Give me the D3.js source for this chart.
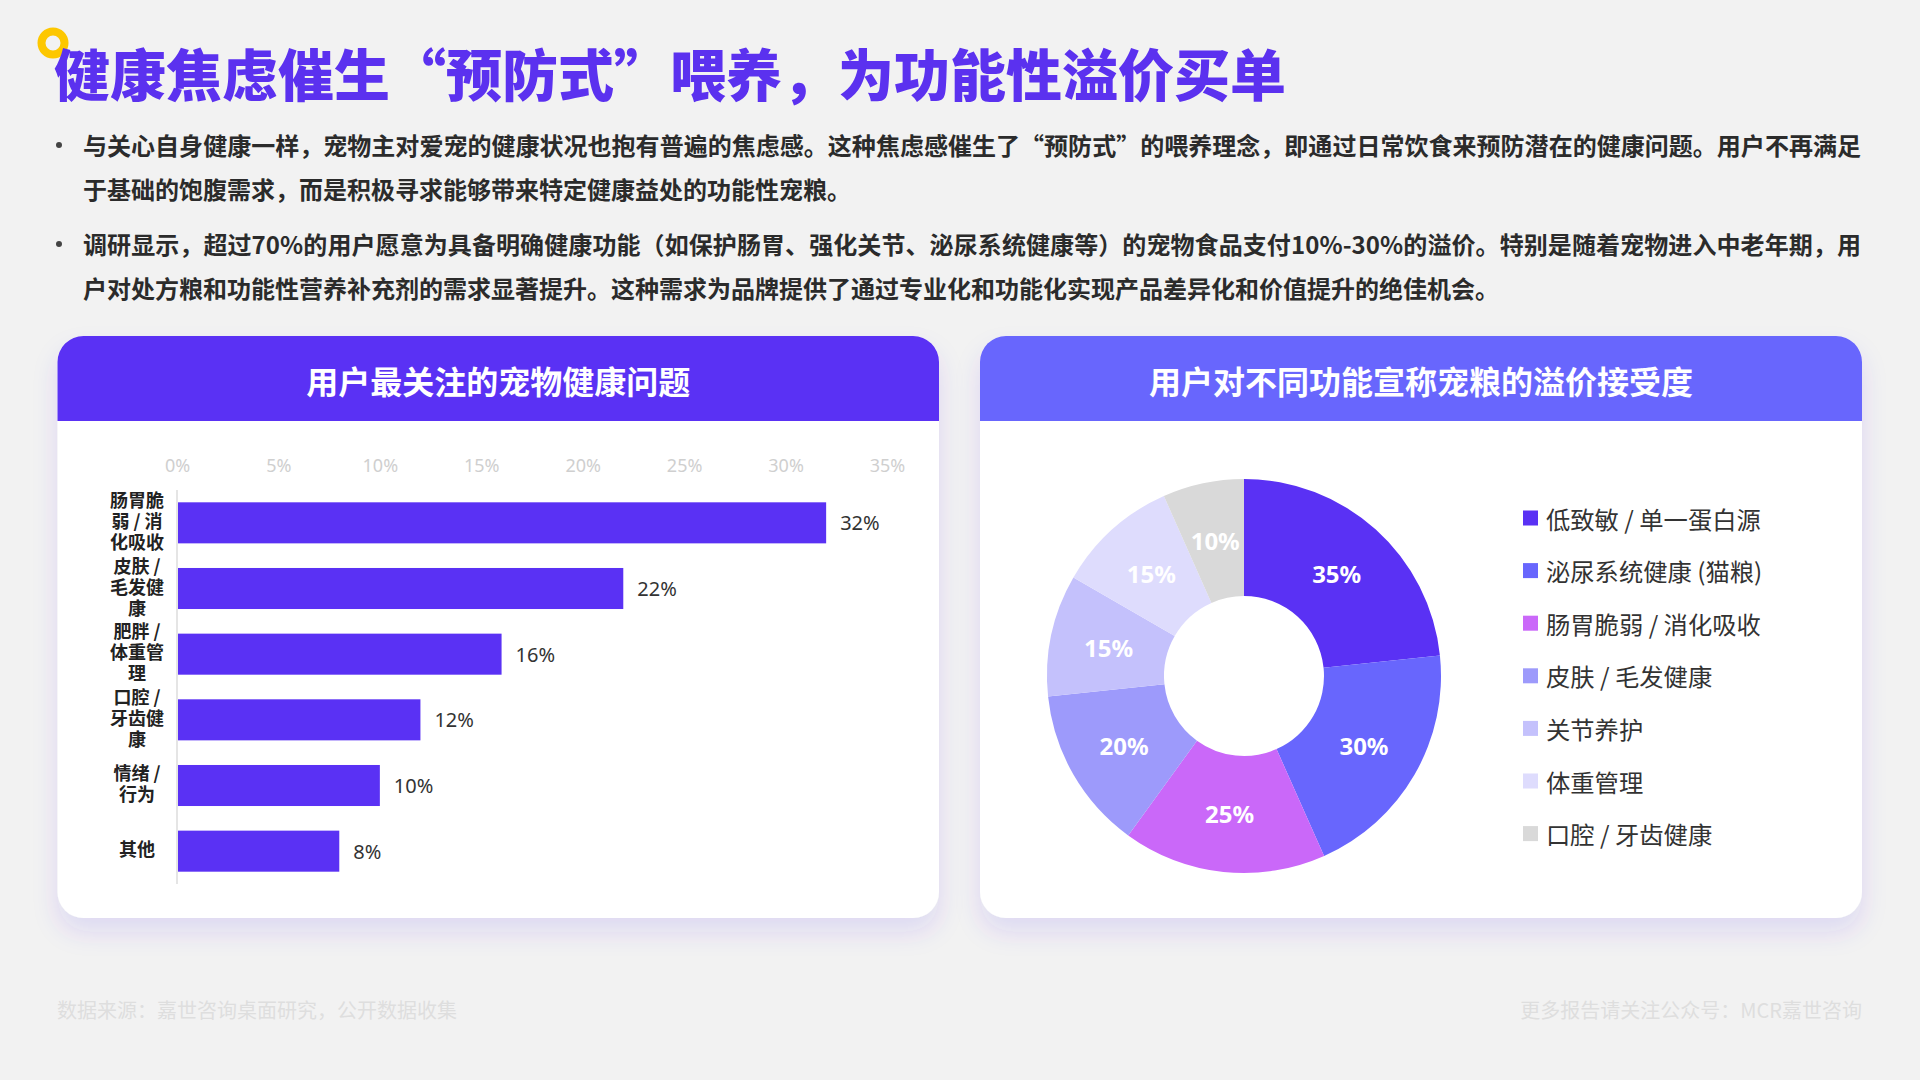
<!DOCTYPE html>
<html>
<head>
<meta charset="utf-8">
<script src="https://cdn.jsdelivr.net/npm/d3@7"></script>
<style>
  html, body { margin: 0; padding: 0; }
  body { width: 1920px; height: 1080px; background: #f2f2f2; overflow: hidden;
         font-family: "Noto Sans CJK SC", "Noto Sans", sans-serif; }
  #page { position: relative; width: 1920px; height: 1080px; }
  svg { position: absolute; left: 0; top: 0; }
  .line { position: absolute; left: 83px; font-size: 24px; font-weight: 700; color: #2b2b2b;
          white-space: nowrap; line-height: 32px; }
  .dot { position: absolute; left: 56px; width: 6px; height: 6px; border-radius: 3px; background: #444; }
</style>
</head>
<body>
<div id="page">
  <svg id="chart" width="1920" height="1080"></svg>
</div>
<script>
// ---------------- data ----------------
const titleText = "健康焦虑催生“预防式”喂养，为功能性溢价买单";
const bulletLines = [
  "与关心自身健康一样，宠物主对爱宠的健康状况也抱有普遍的焦虑感。这种焦虑感催生了“预防式”的喂养理念，即通过日常饮食来预防潜在的健康问题。用户不再满足",
  "于基础的饱腹需求，而是积极寻求能够带来特定健康益处的功能性宠粮。",
  "调研显示，超过70%的用户愿意为具备明确健康功能（如保护肠胃、强化关节、泌尿系统健康等）的宠物食品支付10%-30%的溢价。特别是随着宠物进入中老年期，用",
  "户对处方粮和功能性营养补充剂的需求显著提升。这种需求为品牌提供了通过专业化和功能化实现产品差异化和价值提升的绝佳机会。"
];
const barTitle = "用户最关注的宠物健康问题";
const barCategories = ["肠胃脆弱 / 消化吸收", "皮肤 / 毛发健康", "肥胖 / 体重管理", "口腔 / 牙齿健康", "情绪 / 行为", "其他"];
const barValues = [32, 22, 16, 12, 10, 8];
const barTicks = [0, 5, 10, 15, 20, 25, 30, 35];

const pieTitle = "用户对不同功能宣称宠粮的溢价接受度";
const pieCategories = ["低致敏 / 单一蛋白源", "泌尿系统健康 (猫粮)", "肠胃脆弱 / 消化吸收", "皮肤 / 毛发健康", "关节养护", "体重管理", "口腔 / 牙齿健康"];
const pieValues = [35, 30, 25, 20, 15, 15, 10];
const pieColors = ["#5a31f4", "#6866fd", "#ca68f9", "#9d9afb", "#c4c1fc", "#dedcfd", "#d9d9d9"];

const footLeft = "数据来源：嘉世咨询桌面研究，公开数据收集";
const footRight = "更多报告请关注公众号：MCR嘉世咨询";

// ---------------- bullets (HTML) ----------------
const page = d3.select("#page");
const lineCenters = [144.5, 188.6, 243.7, 287.8];
const justified = [true, false, true, false];
bulletLines.forEach((t, i) => {
  const el = page.append("div").attr("class", "line")
    .style("top", (lineCenters[i] - 16) + "px").text(t);
  if (justified[i]) {
    const w = el.node().getBoundingClientRect().width;
    const n = Array.from(t).length;
    el.style("letter-spacing", ((1778 - w) / n) + "px");
  }
});
[0, 2].forEach(i => page.append("div").attr("class", "dot").style("top", (lineCenters[i] - 3) + "px"));

// ---------------- svg ----------------
const svg = d3.select("#chart");
const defs = svg.append("defs");
const f = defs.append("filter").attr("id", "shadow").attr("x", "-10%").attr("y", "-10%").attr("width", "120%").attr("height", "130%");
f.append("feDropShadow").attr("dx", 0).attr("dy", 14).attr("stdDeviation", 12)
  .attr("flood-color", "#5b31f4").attr("flood-opacity", 0.13);

// title
svg.append("circle").attr("cx", 53).attr("cy", 43).attr("r", 11.5)
  .attr("fill", "none").attr("stroke", "#fdc700").attr("stroke-width", 8);
svg.append("text").attr("x", 54).attr("y", 96).attr("font-size", 56).attr("font-weight", 900)
  .attr("fill", "#5b31ef").attr("font-family", "Noto Sans CJK SC").text(titleText);

// cards
function card(x0, x1, y0, hb, y1, color, title) {
  const r = 26;
  svg.append("rect").attr("x", x0).attr("y", y0).attr("width", x1 - x0).attr("height", y1 - y0)
    .attr("rx", r).attr("fill", "#fff").attr("filter", "url(#shadow)");
  const p = d3.path();
  p.moveTo(x0, hb); p.lineTo(x0, y0 + r); p.arcTo(x0, y0, x0 + r, y0, r);
  p.lineTo(x1 - r, y0); p.arcTo(x1, y0, x1, y0 + r, r); p.lineTo(x1, hb); p.closePath();
  svg.append("path").attr("d", p.toString()).attr("fill", color);
  svg.append("text").attr("x", (x0 + x1) / 2).attr("y", (y0 + hb) / 2 + 1)
    .attr("text-anchor", "middle").attr("dominant-baseline", "central")
    .attr("font-size", 32).attr("font-weight", 700).attr("fill", "#fff")
    .attr("font-family", "Noto Sans CJK SC").text(title);
}
card(57.5, 939, 336, 421, 918, "#5a31f4", barTitle);
card(980, 1862, 336, 421, 918, "#6866fd", pieTitle);

// ---------------- bar chart ----------------
const x = d3.scaleLinear().domain([0, 35]).range([177, 887]);
const y = d3.scaleBand().domain(barCategories).range([490, 884]).paddingInner(0.375).paddingOuter(0.1875);

const gx = svg.append("g").attr("transform", "translate(0,466)")
  .call(d3.axisTop(x).tickValues(barTicks).tickFormat(d => d + "%").tickSize(0).tickPadding(0));
gx.select(".domain").remove();
gx.selectAll("text").attr("dy", "0.35em").attr("font-size", 18).attr("fill", "#cfcfcf")
  .attr("font-family", "Noto Sans, sans-serif");

svg.append("line").attr("x1", 177).attr("x2", 177).attr("y1", 490).attr("y2", 884)
  .attr("stroke", "#dcdcdc").attr("stroke-width", 1.5);

svg.append("g").selectAll("rect").data(barValues).join("rect")
  .attr("x", x(0) + 1).attr("y", (d, i) => y(barCategories[i]))
  .attr("width", d => x(d) - x(0) - 1).attr("height", y.bandwidth())
  .attr("fill", "#5a31f4");

svg.append("g").selectAll("text").data(barValues).join("text")
  .attr("x", d => x(d) + 14).attr("y", (d, i) => y(barCategories[i]) + y.bandwidth() / 2)
  .attr("dominant-baseline", "central").attr("font-size", 20).attr("fill", "#333")
  .attr("font-family", "Noto Sans, sans-serif").text(d => d + "%");

// wrapped y labels
const ctx = document.createElement("canvas").getContext("2d");
const labelFont = "700 18px 'Noto Sans CJK SC'";
function wrapChars(str, maxW) {
  ctx.font = labelFont;
  const lines = []; let cur = "";
  for (const ch of str) {
    const t = cur + ch;
    if (ctx.measureText(t.trim()).width > maxW && cur.trim() !== "") { lines.push(cur.trim()); cur = ch; }
    else cur = t;
  }
  if (cur.trim()) lines.push(cur.trim());
  return lines;
}
barCategories.forEach(c => {
  const lines = wrapChars(c, 56);
  const cy = y(c) + y.bandwidth() / 2 - 3;
  const t = svg.append("text").attr("text-anchor", "middle").attr("font-size", 18)
    .attr("font-weight", 700).attr("fill", "#222").attr("font-family", "Noto Sans CJK SC");
  lines.forEach((l, i) => {
    t.append("tspan").attr("x", 137).attr("y", cy + (i - (lines.length - 1) / 2) * 21)
      .attr("dominant-baseline", "central").text(l);
  });
});

// ---------------- donut ----------------
const cx = 1244, cyc = 676;
const pie = d3.pie().sort(null).value(d => d)(pieValues);
const arc = d3.arc().innerRadius(80).outerRadius(197);
const gp = svg.append("g").attr("transform", `translate(${cx},${cyc})`);
gp.selectAll("path").data(pie).join("path").attr("d", arc).attr("fill", (d, i) => pieColors[i]);
gp.selectAll("text").data(pie).join("text")
  .attr("transform", d => `translate(${arc.centroid(d)})`)
  .attr("text-anchor", "middle").attr("dominant-baseline", "central")
  .attr("font-size", 24).attr("font-weight", 700).attr("fill", "#fff")
  .attr("font-family", "Noto Sans, sans-serif").text(d => d.data + "%");

// legend
const lg = svg.append("g");
pieCategories.forEach((c, i) => {
  const yy = 518 + i * 52.6;
  lg.append("rect").attr("x", 1523).attr("y", yy - 7.5).attr("width", 15).attr("height", 15).attr("fill", pieColors[i]);
  lg.append("text").attr("x", 1546).attr("y", yy).attr("dominant-baseline", "central")
    .attr("font-size", 24.3).attr("fill", "#333").attr("font-family", "Noto Sans CJK SC").text(c);
});

// footer
svg.append("text").attr("x", 57).attr("y", 1009).attr("dominant-baseline", "central")
  .attr("font-size", 20).attr("fill", "#dedede").attr("font-family", "Noto Sans CJK SC").text(footLeft);
svg.append("text").attr("x", 1862).attr("y", 1009).attr("dominant-baseline", "central").attr("text-anchor", "end")
  .attr("font-size", 20).attr("fill", "#dedede").attr("font-family", "Noto Sans CJK SC").text(footRight);
</script>
</body>
</html>
